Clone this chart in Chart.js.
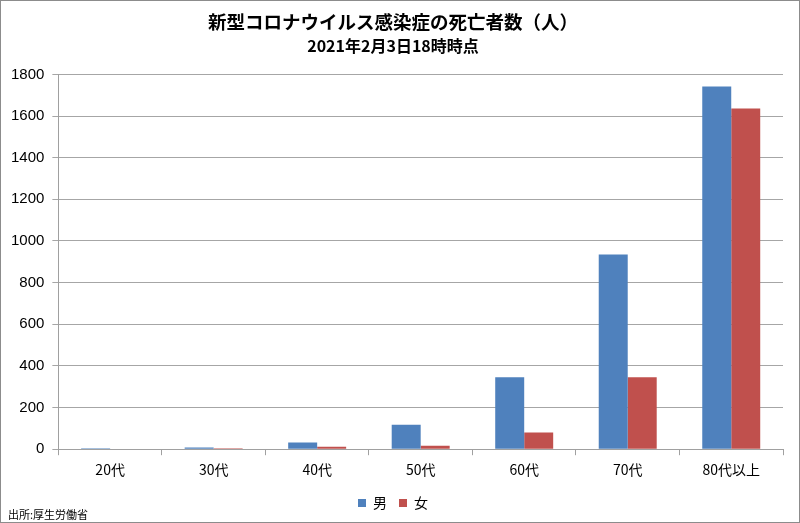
<!DOCTYPE html>
<html>
<head>
<meta charset="utf-8">
<script src="https://cdn.jsdelivr.net/npm/chart.js@4/dist/chart.umd.min.js"></script>
<style>
   body { margin: 0; background: #fff; }
   #wrap { position: relative; width: 800px; height: 523px; border: 1px solid #8c8c8c; box-sizing: border-box; }
   #src { position: absolute; left: 7px; bottom: 0px; font: 11px "Noto Sans CJK JP", sans-serif; color: #000; }
</style>
</head>
<body>
<div id="wrap">
   <canvas id="chart" width="798" height="521"></canvas>
   <div id="src">出所:厚生労働省</div>
</div>
<script>
const ageGroups = ["20代", "30代", "40代", "50代", "60代", "70代", "80代以上"];
const maleDeaths = [5, 8, 32, 118, 345, 935, 1742];
const femaleDeaths = [0, 4, 12, 17, 80, 346, 1636];
const yTicks = [0, 200, 400, 600, 800, 1000, 1200, 1400, 1600, 1800];

const cjk = '"Noto Sans CJK JP", sans-serif';

const config = {
   type: "bar",
   data: {
      labels: ageGroups,
      datasets: [{
         label: "男",
         data: maleDeaths,
         backgroundColor: "#4f81bd",
         borderColor: "#4f81bd"
      }, {
         label: "女",
         data: femaleDeaths,
         backgroundColor: "#c0504d",
         borderColor: "#c0504d"
      }]
   },
   options: {
      responsive: false,
      animation: false,
      layout: { padding: { left: 2, right: 16, top: 0, bottom: 2 } },
      datasets: {
         bar: { categoryPercentage: 0.56, barPercentage: 1.0 }
      },
      plugins: {
         title: {
            display: true,
            text: "新型コロナウイルス感染症の死亡者数（人）",
            font: { family: cjk, size: 18.5, weight: "bold" },
            color: "#000",
            padding: { top: 10, bottom: 3 }
         },
         subtitle: {
            display: true,
            text: "2021年2月3日18時時点",
            font: { family: cjk, size: 16, weight: "bold" },
            color: "#000",
            padding: { top: 0, bottom: 19 }
         },
         legend: {
            position: "bottom",
            labels: {
               boxWidth: 8,
               boxHeight: 8,
               padding: 12,
               font: { family: cjk, size: 14 },
               color: "#000"
            }
         },
         tooltip: { enabled: false }
      },
      scales: {
         x: {
            grid: {
               offset: true,
               drawOnChartArea: false,
               drawTicks: true,
               tickLength: 6,
               color: "#a0a0a0"
            },
            border: { color: "#a0a0a0", width: 1 },
            ticks: {
               font: { family: cjk, size: 14 },
               color: "#000",
               padding: 6
            }
         },
         y: {
            min: 0,
            max: 1800,
            afterBuildTicks: function (axis) {
               axis.ticks = yTicks.map(function (v) { return { value: v }; });
            },
            grid: {
               color: "#a6a6a6",
               tickLength: 6,
               lineWidth: 1
            },
            border: { color: "#a0a0a0", width: 1 },
            ticks: {
               font: { family: '"Liberation Sans", sans-serif', size: 15 },
               color: "#000",
               padding: 8,
               callback: function (value) { return String(value); }
            }
         }
      }
   }
};

new Chart(document.getElementById("chart"), config);
</script>
</body>
</html>
